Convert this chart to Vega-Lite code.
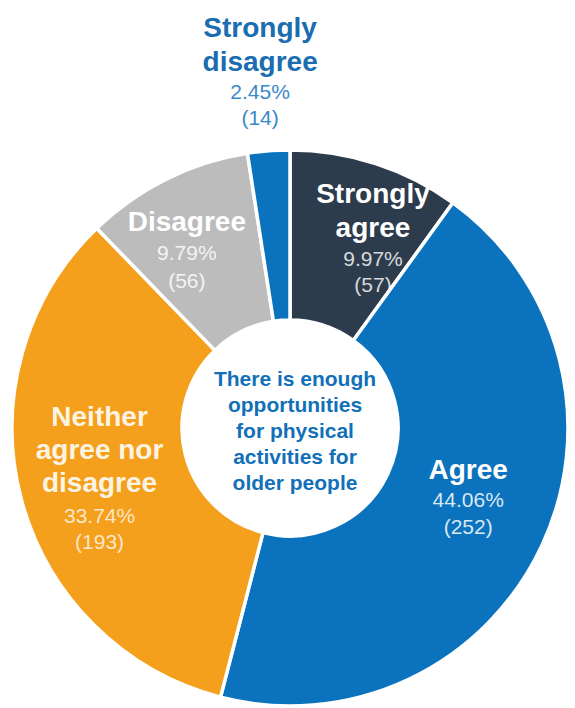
{
  "$schema": "https://vega.github.io/schema/vega-lite/v6.json",
  "width": 570,
  "height": 560,
  "autosize": {"type": "none"},
  "padding": {"left": 5, "top": 148, "right": 0, "bottom": 0},
  "background": "white",
  "config": {"view": {"stroke": null}, "text": {"font": "Liberation Sans"}},
  "data": {
    "values": [
      {"category": "Strongly agree", "rank": 1, "count": 57, "name": ["Strongly", "agree"], "vals": ["9.97%", "(57)"]},
      {"category": "Agree", "rank": 2, "count": 252, "name": ["Agree"], "vals": ["44.06%", "(252)"]},
      {"category": "Neither agree nor disagree", "rank": 3, "count": 193, "name": ["Neither", "agree nor", "disagree"], "vals": ["33.74%", "(193)"]},
      {"category": "Disagree", "rank": 4, "count": 56, "name": ["Disagree"], "vals": ["9.79%", "(56)"]},
      {"category": "Strongly disagree", "rank": 5, "count": 14, "name": ["Strongly", "disagree"], "vals": ["2.45%", "(14)"]}
    ]
  },
  "layer": [
    {
      "mark": {"type": "arc", "radius": 278, "radius2": 108, "stroke": "white", "strokeWidth": 3.5},
      "encoding": {
        "theta": {"field": "count", "type": "quantitative", "stack": true},
        "order": {"field": "rank", "type": "quantitative"},
        "color": {
          "field": "category", "type": "nominal", "legend": null,
          "scale": {
            "domain": ["Strongly agree", "Agree", "Neither agree nor disagree", "Disagree", "Strongly disagree"],
            "range": ["#2d3c4c", "#0b73bd", "#f4a01d", "#bcbcbc", "#0b73bd"]
          }
        }
      }
    },
    {
      "mark": {"type": "text", "radius": 198, "fontSize": 28, "fontWeight": "bold", "fill": "white", "lineHeight": 34, "baseline": "middle", "align": "center", "dx": 22, "dy": -45},
      "encoding": {
        "theta": {"field": "count", "type": "quantitative", "stack": true},
        "order": {"field": "rank", "type": "quantitative"},
        "detail": {"field": "category", "type": "nominal"},
        "text": {"condition": {"test": "datum.category === 'Strongly agree'", "field": "name"}, "value": ""}
      }
    },
    {
      "mark": {"type": "text", "radius": 198, "fontSize": 21, "fill": "white", "fillOpacity": 0.82, "lineHeight": 26, "baseline": "middle", "align": "center", "dx": 22, "dy": 20},
      "encoding": {
        "theta": {"field": "count", "type": "quantitative", "stack": true},
        "order": {"field": "rank", "type": "quantitative"},
        "detail": {"field": "category", "type": "nominal"},
        "text": {"condition": {"test": "datum.category === 'Strongly agree'", "field": "vals"}, "value": ""}
      }
    },
    {
      "mark": {"type": "text", "radius": 198, "fontSize": 28, "fontWeight": "bold", "fill": "white", "lineHeight": 34, "baseline": "middle", "align": "center", "dx": -1, "dy": -41},
      "encoding": {
        "theta": {"field": "count", "type": "quantitative", "stack": true},
        "order": {"field": "rank", "type": "quantitative"},
        "detail": {"field": "category", "type": "nominal"},
        "text": {"condition": {"test": "datum.category === 'Agree'", "field": "name"}, "value": ""}
      }
    },
    {
      "mark": {"type": "text", "radius": 198, "fontSize": 21, "fill": "white", "fillOpacity": 0.85, "lineHeight": 27, "baseline": "middle", "align": "center", "dx": -1, "dy": -11},
      "encoding": {
        "theta": {"field": "count", "type": "quantitative", "stack": true},
        "order": {"field": "rank", "type": "quantitative"},
        "detail": {"field": "category", "type": "nominal"},
        "text": {"condition": {"test": "datum.category === 'Agree'", "field": "vals"}, "value": ""}
      }
    },
    {
      "mark": {"type": "text", "radius": 198, "fontSize": 28, "fontWeight": "bold", "fill": "white", "fillOpacity": 0.9, "lineHeight": 33, "baseline": "middle", "align": "center", "dx": 1, "dy": -61},
      "encoding": {
        "theta": {"field": "count", "type": "quantitative", "stack": true},
        "order": {"field": "rank", "type": "quantitative"},
        "detail": {"field": "category", "type": "nominal"},
        "text": {"condition": {"test": "datum.category === 'Neither agree nor disagree'", "field": "name"}, "value": ""}
      }
    },
    {
      "mark": {"type": "text", "radius": 198, "fontSize": 21, "fill": "white", "fillOpacity": 0.75, "lineHeight": 26, "baseline": "middle", "align": "center", "dx": 1, "dy": 38},
      "encoding": {
        "theta": {"field": "count", "type": "quantitative", "stack": true},
        "order": {"field": "rank", "type": "quantitative"},
        "detail": {"field": "category", "type": "nominal"},
        "text": {"condition": {"test": "datum.category === 'Neither agree nor disagree'", "field": "vals"}, "value": ""}
      }
    },
    {
      "mark": {"type": "text", "radius": 198, "fontSize": 28, "fontWeight": "bold", "fill": "white", "lineHeight": 34, "baseline": "middle", "align": "center", "dx": -15, "dy": -28},
      "encoding": {
        "theta": {"field": "count", "type": "quantitative", "stack": true},
        "order": {"field": "rank", "type": "quantitative"},
        "detail": {"field": "category", "type": "nominal"},
        "text": {"condition": {"test": "datum.category === 'Disagree'", "field": "name"}, "value": ""}
      }
    },
    {
      "mark": {"type": "text", "radius": 198, "fontSize": 21, "fill": "white", "fillOpacity": 0.85, "lineHeight": 28, "baseline": "middle", "align": "center", "dx": -15, "dy": 3},
      "encoding": {
        "theta": {"field": "count", "type": "quantitative", "stack": true},
        "order": {"field": "rank", "type": "quantitative"},
        "detail": {"field": "category", "type": "nominal"},
        "text": {"condition": {"test": "datum.category === 'Disagree'", "field": "vals"}, "value": ""}
      }
    },
    {
      "mark": {"type": "text", "radius": 337, "fontSize": 28, "fontWeight": "bold", "fill": "#1a6db0", "lineHeight": 34, "baseline": "middle", "align": "center", "dx": -4, "dy": -63},
      "encoding": {
        "theta": {"field": "count", "type": "quantitative", "stack": true},
        "order": {"field": "rank", "type": "quantitative"},
        "detail": {"field": "category", "type": "nominal"},
        "text": {"condition": {"test": "datum.category === 'Strongly disagree'", "field": "name"}, "value": ""}
      }
    },
    {
      "mark": {"type": "text", "radius": 337, "fontSize": 21, "fill": "#3a89c9", "lineHeight": 26, "baseline": "middle", "align": "center", "dx": -4, "dy": 1},
      "encoding": {
        "theta": {"field": "count", "type": "quantitative", "stack": true},
        "order": {"field": "rank", "type": "quantitative"},
        "detail": {"field": "category", "type": "nominal"},
        "text": {"condition": {"test": "datum.category === 'Strongly disagree'", "field": "vals"}, "value": ""}
      }
    },
    {
      "data": {"values": [{"title": ["There is enough", "opportunities", "for physical", "activities for", "older people"]}]},
      "mark": {"type": "text", "fontSize": 21, "fontWeight": "bold", "fill": "#1170b8", "lineHeight": 26, "baseline": "middle", "align": "center", "dx": 5, "dy": -48},
      "encoding": {"text": {"field": "title", "type": "nominal"}}
    }
  ]
}
